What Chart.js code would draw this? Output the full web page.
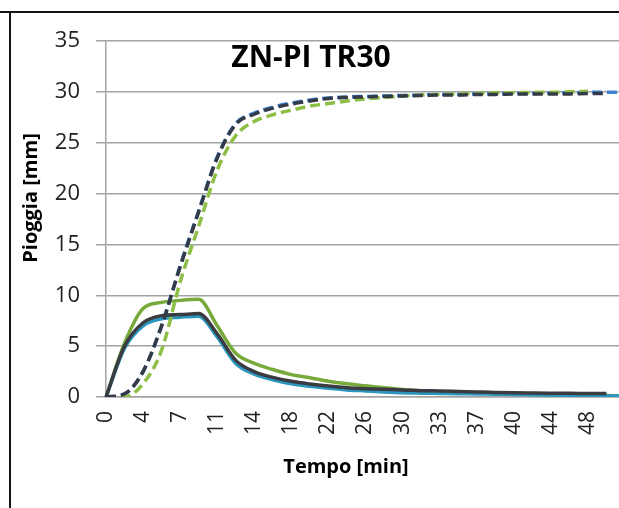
<!DOCTYPE html>
<html>
<head>
<meta charset="utf-8">
<script src="https://cdn.jsdelivr.net/npm/chart.js@4"></script>
<style>
  html, body { margin: 0; padding: 0; background: #fff; overflow: hidden; }
  #wrap { position: absolute; left: 0; top: 0; width: 640px; height: 508px; }
  .bordo { position: absolute; background: #151515; }
</style>
</head>
<body>
<div id="wrap"><canvas id="chart"></canvas></div>
<div class="bordo" style="left:0; top:11px; width:619px; height:2px;"></div>
<div class="bordo" style="left:9px; top:11px; width:2px; height:497px;"></div>
<script>
// tempo [min] per ogni punto (mostrata un'etichetta ogni due)
var tempo = ['0','2','4','5','7','9','11','13','14','16','18','20','22','24','26','28','30','31','33','35','37','39','40','42','44','46','48','50','52'];

// pioggia istantanea (linee continue)
var verde = [0, 5.3, 8.7, 9.3, 9.5, 9.6, 7.0, 4.3, 3.3, 2.7, 2.2, 1.9, 1.55, 1.3, 1.1, 0.9, 0.75, 0.6, 0.5, 0.45, 0.4, 0.35, 0.3, 0.25, 0.22, 0.2, 0.18, 0.15, 0.12];
var blu = [0, 4.8, 7.0, 7.7, 7.85, 7.95, 5.9, 3.3, 2.25, 1.7, 1.3, 1.05, 0.85, 0.7, 0.6, 0.5, 0.42, 0.38, 0.35, 0.32, 0.3, 0.27, 0.25, 0.22, 0.2, 0.17, 0.14, 0.12, 0.1];
var nero = [0, 5.0, 7.3, 8.0, 8.1, 8.2, 6.2, 3.6, 2.5, 1.93, 1.54, 1.28, 1.08, 0.92, 0.82, 0.75, 0.7, 0.62, 0.6, 0.55, 0.5, 0.45, 0.42, 0.4, 0.38, 0.36, 0.35, 0.34];

// pioggia cumulata (linee tratteggiate)
var verdeCum = [0, 0, 1.3, 4.6, 11.3, 16.8, 22.3, 25.7, 27.1, 27.75, 28.2, 28.6, 28.85, 29.1, 29.3, 29.45, 29.6, 29.7, 29.75, 29.8, 29.85, 29.9, 29.9, 29.95, 29.95, 30.0, 30.05];
var bluCum = [0, 0.3, 2.5, 7.0, 12.9, 18.3, 23.6, 26.9, 27.9, 28.5, 28.9, 29.2, 29.4, 29.5, 29.55, 29.6, 29.65, 29.7, 29.75, 29.75, 29.8, 29.8, 29.85, 29.85, 29.9, 29.9, 29.95, 29.95, 30.0];
var neroCum = [0, 0.3, 2.5, 7.0, 12.8, 18.2, 23.5, 26.8, 27.8, 28.4, 28.8, 29.1, 29.35, 29.45, 29.5, 29.55, 29.6, 29.65, 29.7, 29.7, 29.75, 29.75, 29.8, 29.8, 29.8, 29.8, 29.85, 29.85];

var yTicks = [0, 5, 10, 15, 20, 25, 30, 35];

const FONT = "'Open Sans', 'Liberation Sans', sans-serif";
const GRIGIO = "#a3a3a3";

function serie(label, data, color, dashed) {
  return {
    label: label,
    data: data,
    borderColor: color,
    backgroundColor: "transparent",
    borderWidth: 3.5,
    borderDash: dashed ? [10, 5] : [],
    pointRadius: 0,
    cubicInterpolationMode: "monotone",
    fill: false
  };
}

// titoli disegnati sopra al grafico
const titoli = {
  id: "titoli",
  afterDraw(chart) {
    const c = chart.ctx;
    c.save();
    c.fillStyle = "#000";
    c.textAlign = "center";
    c.textBaseline = "middle";
    c.font = "bold 30px " + FONT;
    c.fillText("ZN-PI TR30", 311, 58);
    c.font = "bold 20px " + FONT;
    c.fillText("Tempo [min]", 346, 467);
    c.translate(31, 198);
    c.rotate(-Math.PI / 2);
    c.fillText("Pioggia [mm]", 0, 0);
    c.restore();
  }
};

const ctx = document.getElementById("chart").getContext("2d");
new Chart(ctx, {
  type: "line",
  data: {
    labels: tempo,
    datasets: [
      serie("Cumulata nero", neroCum, "#343a46", true),
      serie("Nero", nero, "#3a3c41", false),
      serie("Cumulata verde", verdeCum, "#8dbf47", true),
      serie("Cumulata blu", bluCum, "#3f80d2", true),
      serie("Blu", blu, "#2b97bf", false),
      serie("Verde", verde, "#78aa3b", false)
    ]
  },
  options: {
    responsive: true,
    maintainAspectRatio: false,
    animation: false,
    layout: { padding: { top: 41, right: 15, left: 0, bottom: 0 } },
    plugins: { legend: { display: false }, tooltip: { enabled: false } },
    scales: {
      x: {
        offset: false,
        grid: { display: false, drawTicks: false },
        border: { display: true, color: GRIGIO, width: 1.5 },
        ticks: {
          autoSkip: false,
          minRotation: 90,
          maxRotation: 90,
          padding: 14,
          color: "#222",
          font: { family: FONT, size: 21 },
          callback: function (v, i) { return (i % 2 === 0 && i <= 26) ? tempo[i] : ""; }
        },
        afterFit: function (s) { s.height = 111; s.paddingLeft = 0; s.paddingRight = 0; }
      },
      y: {
        min: 0,
        max: 35,
        afterBuildTicks: function (s) { s.ticks = yTicks.map(function (v) { return { value: v }; }); },
        grid: { color: GRIGIO, lineWidth: 1.5, tickLength: 10, drawTicks: true },
        border: { display: true, color: GRIGIO, width: 1.5 },
        ticks: {
          padding: 16,
          color: "#222",
          font: { family: FONT, size: 22 }
        },
        afterFit: function (s) { s.width = 106; }
      }
    }
  },
  plugins: [titoli]
});
</script>
</body>
</html>
